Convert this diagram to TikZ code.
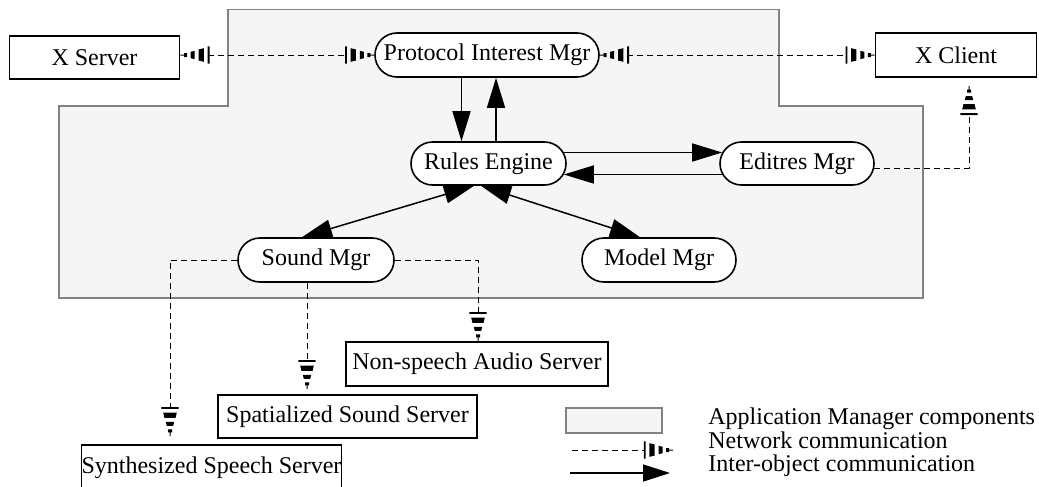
\documentclass[tikz,border=0pt]{standalone}
\usepackage{fontspec}
\setmainfont{Liberation Serif}
\usetikzlibrary{arrows.meta, shapes.misc}
\definecolor{amfill}{RGB}{245,245,245}
\definecolor{amline}{RGB}{130,130,130}
\pgfdeclarearrow{
  name = Spk,
  setup code = {
    \pgfarrowssettipend{0pt}
    \pgfarrowssetlineend{-13.8pt}
    \pgfarrowssetbackend{-14.6pt}
    \pgfarrowssetvisualbackend{-14.6pt}
    \pgfarrowshullpoint{0pt}{4.3pt}
    \pgfarrowshullpoint{0pt}{-4.3pt}
    \pgfarrowshullpoint{-14.6pt}{4.3pt}
    \pgfarrowshullpoint{-14.6pt}{-4.3pt}
  },
  drawing code = {
    \pgfpathrectangle{\pgfpoint{-14.6pt}{-4.3pt}}{\pgfpoint{0.9pt}{8.6pt}}
    \pgfpathmoveto{\pgfpoint{-11.8pt}{3.4pt}}
    \pgfpathlineto{\pgfpoint{-9.2pt}{2.8pt}}
    \pgfpathlineto{\pgfpoint{-9.2pt}{-2.8pt}}
    \pgfpathlineto{\pgfpoint{-11.8pt}{-3.4pt}}
    \pgfpathclose
    \pgfpathmoveto{\pgfpoint{-7.2pt}{2.1pt}}
    \pgfpathlineto{\pgfpoint{-5.2pt}{1.6pt}}
    \pgfpathlineto{\pgfpoint{-5.2pt}{-1.6pt}}
    \pgfpathlineto{\pgfpoint{-7.2pt}{-2.1pt}}
    \pgfpathclose
    \pgfpathrectangle{\pgfpoint{-3.4pt}{-1pt}}{\pgfpoint{1.5pt}{2pt}}
    \pgfpathrectangle{\pgfpoint{-1.9pt}{-0.25pt}}{\pgfpoint{1.9pt}{0.5pt}}
    \pgfusepathqfill
  }
}
\begin{document}
\begin{tikzpicture}[x=0.5pt, y=-0.5pt,
  srv/.style={rectangle, draw, line width=0.8pt, fill=white, inner sep=0pt, minimum height=22pt, font=\fontsize{12}{14}\selectfont},
  mgr/.style={rounded rectangle, draw, line width=0.8pt, fill=white, inner sep=0pt, minimum height=22pt, font=\fontsize{12}{14}\selectfont},
  arr/.style={-{Triangle[length=15pt, width=9pt]}, line width=0.75pt},
  netl/.style={line width=0.5pt, dash pattern=on 3pt off 2pt},
  lgd/.style={anchor=base west, inner sep=0pt, font=\fontsize{12}{14}\selectfont}]
\useasboundingbox (0,0) rectangle (1039,487);
\draw[amline, fill=amfill, line width=0.8pt] (228,9.5) -- (779,9.5) -- (779,106) -- (923,106) -- (923,298) -- (59,298) -- (59,106) -- (228,106) -- cycle;
\node[srv, minimum width=85pt, minimum height=21.5pt] (xserver) at (94.5,57.5) {X Server};
\node[srv, minimum width=80.5pt] (xclient) at (956,55) {X Client};
\node[mgr, minimum width=112pt] (pim) at (487,55) {Protocol Interest Mgr};
\node[mgr, minimum width=77.5pt, minimum height=21.5pt] (rules) at (488.5,163.5) {Rules Engine};
\node[mgr, minimum width=77pt, minimum height=21.5pt] (editres) at (797,163.5) {Editres Mgr};
\node[mgr, minimum width=78pt] (sound) at (316,260) {Sound Mgr};
\node[mgr, minimum width=77pt] (model) at (659,260) {Model Mgr};
\node[srv, minimum width=131pt] (nonspeech) at (477,364) {Non-speech Audio Server};
\node[srv, minimum width=129.5pt, minimum height=21.5pt] (spatial) at (347.5,416.5) {Spatialized Sound Server};
\node[srv, minimum width=128.5pt, minimum height=23pt] (synth) at (211.5,468) {Synthesized Speech Server};
\draw[netl, {Spk}-{Spk}] (xserver.east |- pim.west) -- (pim.west);
\draw[netl, {Spk}-{Spk}] (pim.east) -- (xclient.west);
\draw[arr] ([xshift=-12.75pt]pim.south) -- ([xshift=-12.75pt]pim.south |- rules.north);
\draw[arr] ([xshift=4.5pt]pim.south |- rules.north) -- ([xshift=4.5pt]pim.south);
\draw[arr] ([xshift=-1.5pt, yshift=5.5pt]rules.east) -- ([xshift=1.5pt, yshift=5.5pt]editres.west);
\draw[arr] ([xshift=1.5pt, yshift=-5.5pt]editres.west) -- ([xshift=-1.5pt, yshift=-5.5pt]rules.east);
\draw[arr, {Triangle[length=15pt, width=9pt]}-{Triangle[length=15pt, width=9pt]}] ([xshift=-7.25pt]rules.south) -- ([xshift=-7pt]sound.north);
\draw[arr, {Triangle[length=15pt, width=9pt]}-{Triangle[length=15pt, width=9pt]}] ([xshift=-3.75pt]rules.south) -- ([xshift=-9.5pt]model.north);
\draw[netl, -{Spk}] ([xshift=-0.5pt, yshift=-2.25pt]editres.east) -| ([xshift=6.5pt, yshift=-4pt]xclient.south);
\draw[netl, -{Spk}] (sound.west) -| ([xshift=-20.75pt, yshift=4pt]synth.north);
\draw[netl, -{Spk}] ([xshift=-4.5pt]sound.south) -- ([xshift=-4.5pt, yshift=2.5pt]sound.south |- spatial.north);
\draw[netl, -{Spk}] (sound.east) -| ([xshift=0.5pt]nonspeech.north);
\node[rectangle, draw=amline, fill=amfill, line width=0.8pt, minimum width=48pt, minimum height=12.5pt, inner sep=0pt] (appbox) at (614,420.5) {};
\coordinate (net0) at (572,450);
\coordinate (net1) at (673,450);
\coordinate (obj0) at (570,473);
\coordinate (obj1) at (670,473);
\draw[netl, -{Spk}] (net0) -- (net1);
\draw[arr, -{Triangle[length=13.5pt, width=8.5pt]}] (obj0) -- (obj1);
\node[lgd] (lgapp) at (708,424) {Application Manager components};
\node[lgd] (lgnet) at (708,448.5) {Network communication};
\node[lgd] (lgobj) at (708,471) {Inter-object communication};
\end{tikzpicture}
\end{document}
